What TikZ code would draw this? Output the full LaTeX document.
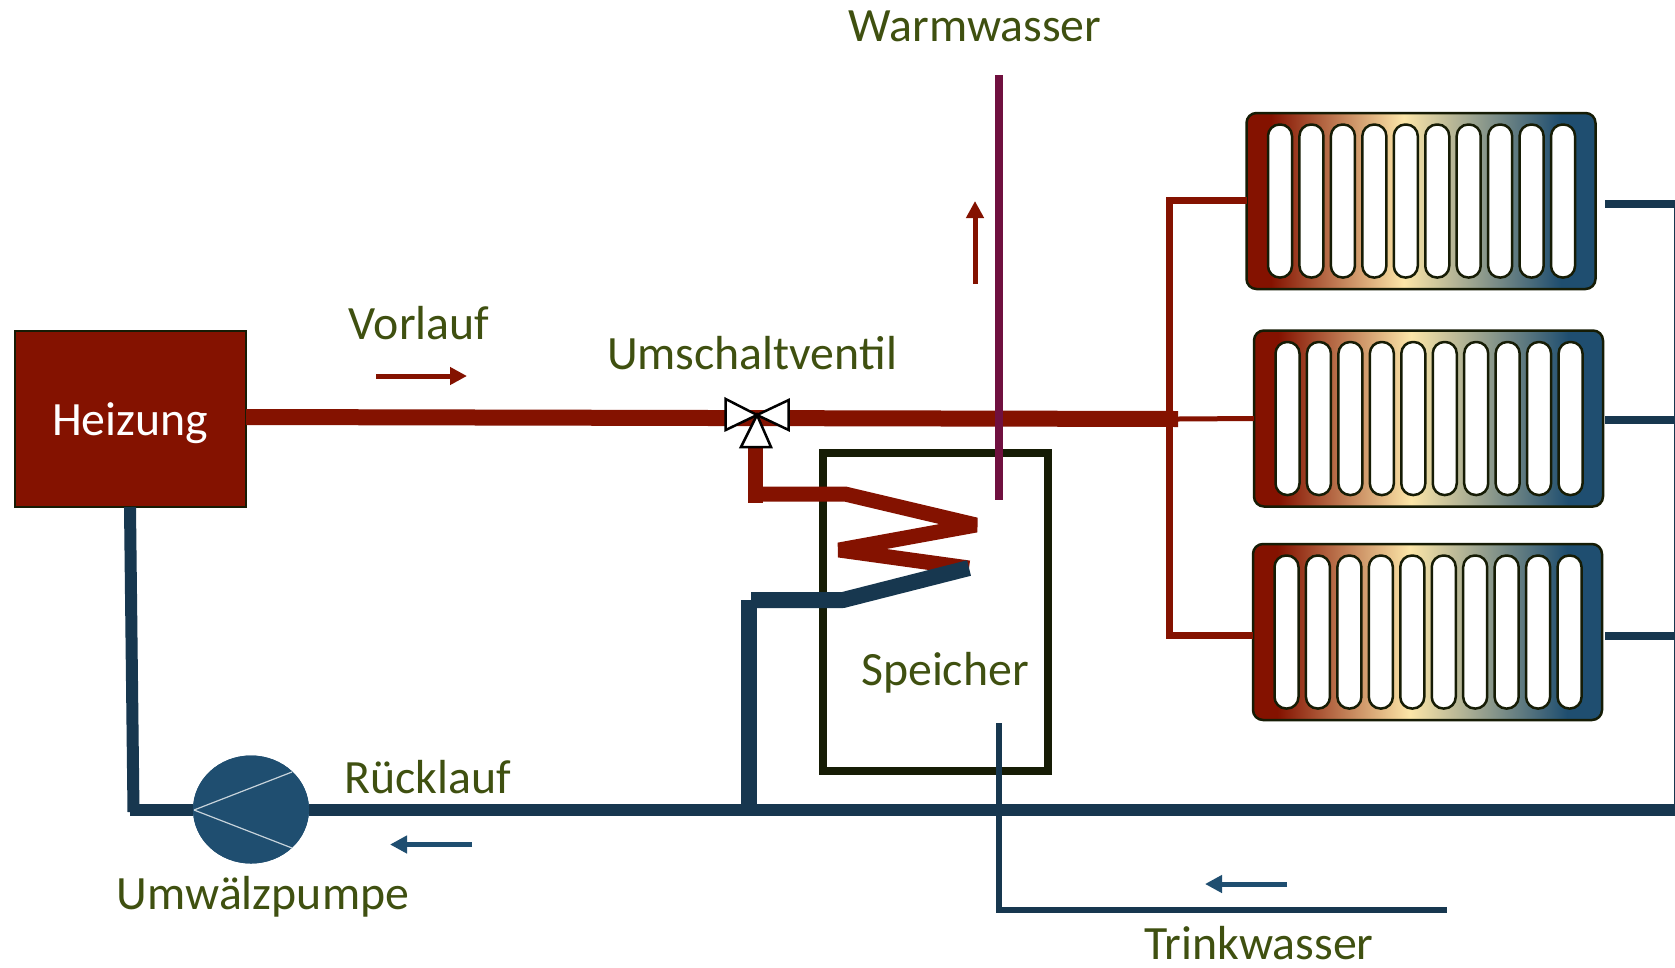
\documentclass[tikz,border=0pt]{standalone}
\usepackage{fontspec}
\setmainfont{Carlito}
\usetikzlibrary{arrows.meta,calc,shapes.geometric}
\definecolor{hotred}{HTML}{841200}
\definecolor{pipeblue}{HTML}{17374F}
\definecolor{radblue}{HTML}{1F4E70}
\definecolor{cream}{HTML}{FCE6A8}
\definecolor{edgedark}{HTML}{161C05}
\definecolor{wine}{HTML}{70103F}
\definecolor{labelgreen}{HTML}{3F5010}
\pgfdeclarehorizontalshading{radshade}{100bp}{color(0bp)=(hotred); color(28.5bp)=(hotred); color(47.5bp)=(cream); color(70bp)=(radblue); color(100bp)=(radblue)}
\tikzset{
  x=1pt,y=-1pt,
  label text/.style={font=\fontsize{47.8}{50}\selectfont,text=labelgreen,inner sep=0pt},
  radiator/.style={draw=edgedark,line width=2.5pt,rounded corners=10pt,shading=radshade,minimum width=349pt,minimum height=176pt,inner sep=0pt,outer sep=0pt},
  rib/.style={draw=edgedark,line width=2.5pt,fill=white,rounded corners=11.5pt},
  hot pipe/.style={draw=hotred,line width=#1,line join=bevel},
  cold pipe/.style={draw=pipeblue,line width=#1,line join=bevel},
  flow red/.style={draw=hotred,line width=5pt,-{Triangle[length=17pt,width=17pt]}},
  flow blue/.style={draw=radblue,line width=5pt,-{Triangle[length=17pt,width=17pt]}},
  valve part/.style={draw=black,line width=2.5pt,fill=white,line join=miter},
}
\newcommand{\ribs}[1]{%
  \foreach \k in {0,...,9}{
    \draw[rib] ($(#1.west)+(21.5+\k*31.45,-76.5)$) rectangle ($(#1.west)+(45.5+\k*31.45,76.5)$);
  }}
\begin{document}
\begin{tikzpicture}
\useasboundingbox[fill=white] (0,0) rectangle (1675,967);
% nodes
\node[draw=edgedark,line width=2pt,fill=hotred,minimum width=231pt,minimum height=176pt,inner sep=0pt,outer sep=0pt] (heiz) at (130,419) {};
\node[font=\fontsize{47.8}{50}\selectfont,text=white,inner sep=0pt] (heiztxt) at (130,423) {Heizung};
\node[radiator] (r1) at (1421,201) {};
\node[radiator] (r2) at (1428.5,418.5) {};
\node[radiator] (r3) at (1427.5,632) {};
\node[draw=edgedark,line width=8pt,minimum width=225pt,minimum height=318pt,inner sep=0pt,outer sep=0pt] (tank) at (935.5,611.5) {};
\node[fill=radblue,ellipse,minimum width=116pt,minimum height=108pt,inner sep=0pt,outer sep=0pt] (pump) at (251,809.5) {};
% coordinates
\coordinate (vlA) at (246,417);
\coordinate (vlB) at (1178,419);
\coordinate (vT) at (1169,200);
\coordinate (vB) at (1169,635.5);
\coordinate (vC) at (757,415);
\coordinate (c0) at (755.7,447);
\coordinate (c1) at (755.7,503);
\coordinate (c2) at (748,494);
\coordinate (c3) at (845,494);
\coordinate (c4) at (976,525);
\coordinate (c5) at (839,550);
\coordinate (c6) at (969,568);
\coordinate (b1) at (843,600);
\coordinate (b2) at (751,600);
\coordinate (b3) at (749,600);
\coordinate (b4) at (749,810);
\coordinate (hb) at (130,507);
\coordinate (rt0) at (133.5,812);
\coordinate (rt1) at (130,809.5);
\coordinate (rtR) at (1675,809.5);
\coordinate (rs1) at (1605,204);
\coordinate (rs1e) at (1675,204);
\coordinate (rs2) at (1605,420);
\coordinate (rs2e) at (1675,420);
\coordinate (rs3) at (1605,636);
\coordinate (rs3e) at (1675,636);
\coordinate (wT) at (999,75);
\coordinate (wB) at (999,500);
\coordinate (tT) at (999,723);
\coordinate (tC) at (999,913);
\coordinate (tC2) at (996,910);
\coordinate (tE) at (1447,910);
% return pipes
\draw[cold pipe=12pt] (hb) -- (rt0);
\draw[cold pipe=12pt] (rt1) -- (pump);
\draw[cold pipe=12pt] (pump) -- (rtR);
\node[fill=radblue,ellipse,minimum width=116pt,minimum height=108pt,inner sep=0pt,outer sep=0pt] (pumpb) at (pump) {};
\draw[cold pipe=16pt] (b3) -- (b4);
\draw[draw=pipeblue,line width=2pt] (rs1e) -- (rtR);
\draw[cold pipe=8pt] (rs1) -- (rs1e);
\draw[cold pipe=8pt] (rs2) -- (rs2e);
\draw[cold pipe=8pt] (rs3) -- (rs3e);
% radiators
\ribs{r1}\ribs{r2}\ribs{r3}
% red pipes
\draw[hot pipe=16pt] (vlA) -- (vlB);
\draw[hot pipe=5pt] (vlB) -- (r2.west);
\draw[hot pipe=7pt,line join=miter] (r1.west |- vT) -- (vT) -- (vB) -- (r3.west |- vB);
% coil
\draw[hot pipe=15pt] (c0) -- (c1);
\draw[hot pipe=15pt] (c2) -- (c3) -- (c4) -- (c5) -- (c6);
\draw[cold pipe=16pt] (c6) -- (b1) -- (b2);
% water lines
\draw[draw=wine,line width=8pt] (wT) -- (wB);
\draw[draw=pipeblue,line width=6pt] (tT) -- (tC);
\draw[draw=pipeblue,line width=6pt] (tC2) -- (tE);
% valve
\draw[valve part] (vC) -- (725.7,399) -- (725.7,430) -- cycle;
\draw[valve part] (vC) -- (788.7,400) -- (788.7,430) -- cycle;
\draw[valve part] (vC) -- (771,447) -- (741,447) -- cycle;
% pump blades
\draw[draw=white!75!radblue,line width=1.2pt] (194,810) -- (292,772);
\draw[draw=white!75!radblue,line width=1.2pt] (194,810) -- (292,848);
% flow arrows
\coordinate (a1s) at (376,376); \coordinate (a1e) at (467,376);
\coordinate (a2s) at (975,284); \coordinate (a2e) at (975,201);
\coordinate (a3s) at (472,844.5); \coordinate (a3e) at (390,844.5);
\coordinate (a4s) at (1287,884); \coordinate (a4e) at (1205,884);
\draw[flow red] (a1s) -- (a1e);
\draw[flow red] (a2s) -- (a2e);
\draw[flow blue] (a3s) -- (a3e);
\draw[flow blue] (a4s) -- (a4e);
% labels
\node[label text] (lw) at (975,26) {Warmwasser};
\node[label text] (lv) at (419,323) {Vorlauf};
\node[label text] (lu) at (752,353) {Umschaltventil};
\node[label text] (ls) at (945,673) {Speicher};
\node[label text] (lr) at (428,777) {Rücklauf};
\node[label text] (lp) at (263,897) {Umwälzpumpe};
\node[label text] (lt) at (1259,943) {Trinkwasser};
\end{tikzpicture}
\end{document}
